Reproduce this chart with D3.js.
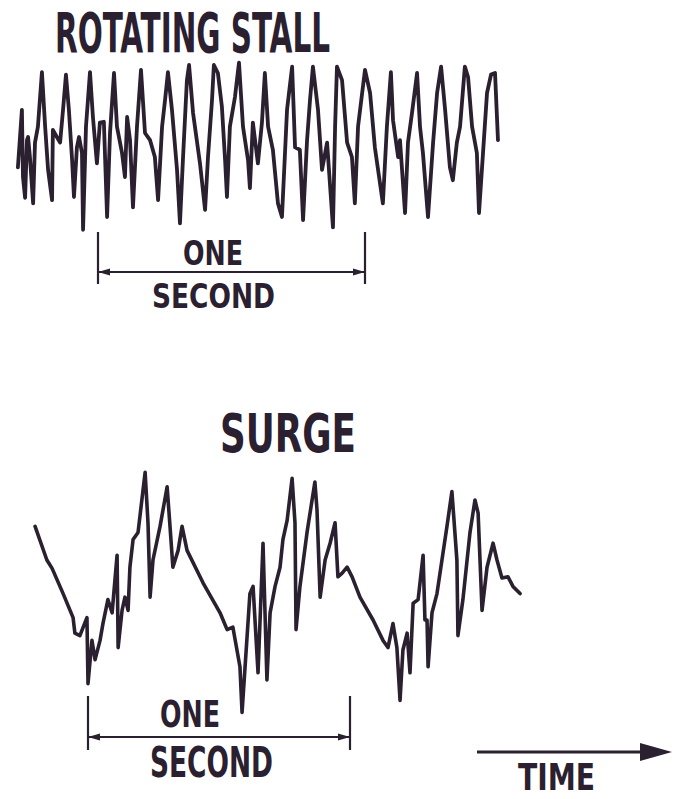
<!DOCTYPE html>
<html>
<head>
<meta charset="utf-8">
<script src="https://cdn.jsdelivr.net/npm/d3@7"></script>
<style>
  html, body { margin: 0; padding: 0; background: #fff; }
  svg { display: block; }
</style>
</head>
<body>
<div id="chart"></div>
<script>
// rotating stall trace: time in ms (0 = start of the "one second" bar), amplitude in arbitrary units
const stallTime = [-300, -285, -281, -273, -266, -262, -255, -243, -236, -225, -210, -198, -187, -172, -169, -154, -142, -131, -120, -109,
  -97, -90, -79, -71, -60, -56, -45, -30, -19, -4, 7, 22, 34, 45, 60, 71, 90, 101, 109, 120,
  131, 146, 161, 176, 195, 213, 225, 240, 251, 262, 277, 296, 307, 318, 333, 341, 356, 382, 401, 412,
  427, 434, 449, 464, 476, 483, 494, 513, 528, 543, 562, 569, 580, 599, 614, 625, 637, 655, 674, 689,
  708, 727, 738, 756, 768, 783, 794, 805, 824, 839, 858, 880, 888, 895, 914, 933, 951, 962, 974, 1000,
  1019, 1037, 1067, 1082, 1097, 1105, 1124, 1131, 1150, 1161, 1176, 1195, 1206, 1217, 1236, 1255, 1270, 1285, 1300, 1318,
  1329, 1344, 1356, 1374, 1386, 1401, 1419, 1427, 1442, 1457, 1472, 1487, 1498];
const stallAmp = [-28, 44, -40, -66, 6, 10, -15, -73, 3, 23, 91, 23, -31, -69, 19, 10, 3, 44, 88, 44,
  -19, -65, -3, 10, -10, -106, 23, 91, 35, -23, 28, 29, -90, 15, 90, 23, -10, -40, 35, 6,
  -78, 23, 94, 15, 6, -15, -69, 23, 56, 91, 44, -31, -98, -19, 81, 100, 40, -23, -81, -15,
  56, 100, 90, 48, -19, -65, 23, 60, 103, 23, -19, -54, 28, -23, 28, 90, 23, -6, -73, -90,
  44, 98, -3, -6, -94, 6, 56, 98, 44, -31, 3, -103, 23, 98, 81, 3, -15, -73, 23, 94,
  65, -3, -73, 23, 91, 31, -15, 6, -85, 3, 40, 90, 23, -10, -90, 3, 65, 98, 44, -28,
  -44, 3, 23, 98, 85, 23, -10, -85, -10, 65, 88, 90, 6];

// surge trace
const surgeTime = [-202, -157, -137, -95, -57, -50, -31, -4, 0, 15, 27, 46, 57, 76, 92, 111, 115, 130, 141, 153,
  160, 172, 191, 218, 229, 237, 248, 275, 302, 313, 324, 344, 359, 378, 439, 504, 531, 553, 580, 588,
  618, 630, 649, 668, 683, 695, 714, 733, 744, 760, 779, 790, 794, 809, 836, 866, 874, 886, 905, 924,
  943, 954, 970, 989, 1008, 1038, 1088, 1126, 1145, 1164, 1179, 1191, 1202, 1218, 1229, 1241, 1260, 1279, 1286, 1294,
  1298, 1313, 1332, 1351, 1370, 1389, 1408, 1412, 1431, 1458, 1477, 1489, 1504, 1523, 1546, 1561, 1580, 1603, 1622, 1649];
const surgeAmp = [53, 25, 18, -3, -23, -36, -38, -23, -78, -42, -58, -42, -28, -8, -19, 29, -48, -17, -6, -17,
  19, 42, 48, 98, 56, -6, 25, 53, 86, 53, 19, 33, 53, 33, 6, -19, -33, -31, -64, -102,
  -3, 3, -69, 39, -75, -19, 3, 19, 42, 58, 93, 56, -33, 3, 48, 90, 67, -6, 25, 39,
  56, 11, 14, 19, 11, -6, -25, -42, -48, -28, -48, -92, -50, -36, -69, -11, -8, 29, -25, -25,
  -64, -19, -3, 25, 53, 82, 25, -38, -8, 48, 75, 64, -17, 19, 39, 25, 10, 11, 3, -3];

const titles = ['ROTATING STALL', 'SURGE'];
const barLabels = ['ONE', 'SECOND'];
const axisLabel = 'TIME';
const barSpan = [0, 1000]; // one second, ms

const INK = '#2a2030';
const FONT = "'DejaVu Sans Condensed', 'Liberation Sans Narrow', 'DejaVu Sans', sans-serif";

const width = 677, height = 799;

const svg = d3.select('#chart')
  .append('svg')
  .attr('width', width)
  .attr('height', height);

const panels = [
  {
    time: stallTime, amp: stallAmp, title: titles[0], stroke: 3.8,
    x: d3.scaleLinear().domain(barSpan).range([98, 365]),
    y: d3.scaleLinear().domain([-100, 100]).range([225, 65]),
    titleBox: { x: 55, y: 52, w: 275, size: 55 },
    bar: { y: 272, top: 232, bottom: 284 },
    one: { x: 183, y: 265, w: 60, size: 34 },
    sec: { x: 152, y: 308, w: 123, size: 34 },
  },
  {
    time: surgeTime, amp: surgeAmp, title: titles[1], stroke: 3.6,
    x: d3.scaleLinear().domain(barSpan).range([88, 350]),
    y: d3.scaleLinear().domain([-100, 100]).range([710, 470]),
    titleBox: { x: 220, y: 452, w: 136, size: 53 },
    bar: { y: 737, top: 696, bottom: 750 },
    one: { x: 160, y: 727, w: 60, size: 37 },
    sec: { x: 150, y: 777, w: 123, size: 42 },
  },
];

function label(g, text, box) {
  g.append('text')
    .attr('x', box.x)
    .attr('y', box.y)
    .attr('textLength', box.w)
    .attr('lengthAdjust', 'spacingAndGlyphs')
    .attr('font-family', FONT)
    .attr('font-weight', 'bold')
    .attr('font-size', box.size)
    .attr('fill', INK)
    .text(text);
}

function arrowHead(g, x, y, dir, len, half) {
  g.append('path')
    .attr('d', `M${x},${y} L${x - dir * len},${y - half} L${x - dir * len},${y + half} Z`)
    .attr('fill', INK);
}

panels.forEach(p => {
  const g = svg.append('g');
  const pts = p.time.map((t, i) => [t, p.amp[i]]);

  const line = d3.line()
    .x(d => p.x(d[0]))
    .y(d => p.y(d[1]));

  g.append('path')
    .datum(pts)
    .attr('d', line)
    .attr('fill', 'none')
    .attr('stroke', INK)
    .attr('stroke-width', p.stroke)
    .attr('stroke-linejoin', 'round')
    .attr('stroke-linecap', 'round');

  label(g, p.title, p.titleBox);

  // "one second" bar
  const x0 = p.x(barSpan[0]), x1 = p.x(barSpan[1]);
  g.selectAll('line.tick')
    .data(barSpan)
    .join('line')
    .attr('x1', d => p.x(d)).attr('x2', d => p.x(d))
    .attr('y1', p.bar.top).attr('y2', p.bar.bottom)
    .attr('stroke', INK)
    .attr('stroke-width', 2.2);
  g.append('line')
    .attr('x1', x0).attr('x2', x1)
    .attr('y1', p.bar.y).attr('y2', p.bar.y)
    .attr('stroke', INK)
    .attr('stroke-width', 2);
  arrowHead(g, x0, p.bar.y, -1, 12, 3.5);
  arrowHead(g, x1, p.bar.y, 1, 12, 3.5);

  label(g, barLabels[0], p.one);
  label(g, barLabels[1], p.sec);
});

// time arrow
const ga = svg.append('g');
ga.append('line')
  .attr('x1', 477).attr('x2', 650)
  .attr('y1', 752).attr('y2', 752)
  .attr('stroke', INK)
  .attr('stroke-width', 3);
arrowHead(ga, 672, 752, 1, 32, 9);
label(ga, axisLabel, { x: 518, y: 790, w: 77, size: 38 });
</script>
</body>
</html>
